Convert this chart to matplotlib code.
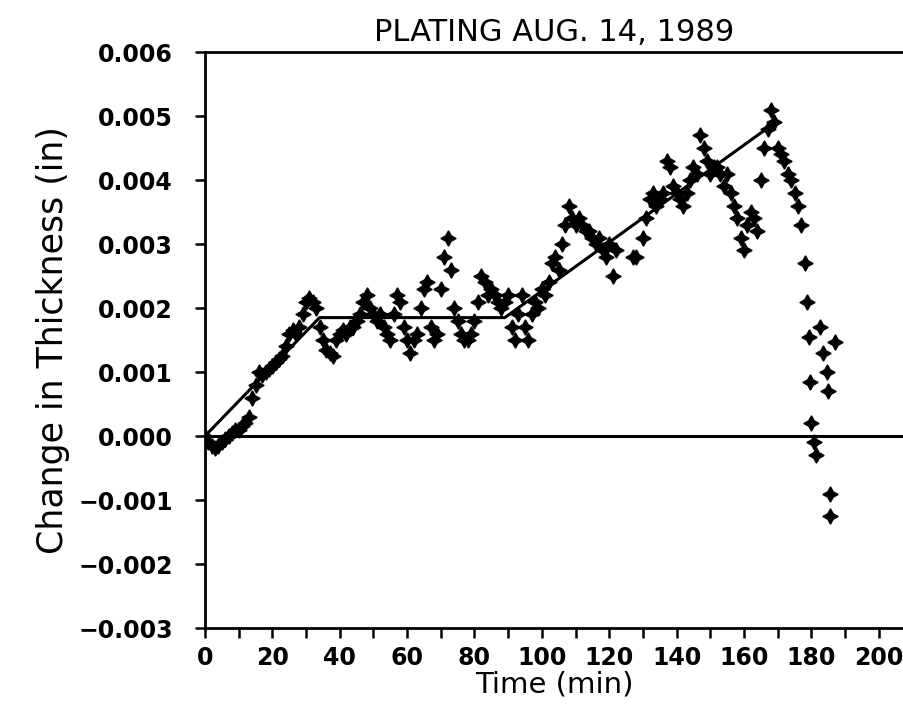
import numpy as np
import matplotlib.pyplot as plt

# measured thickness change (in) vs time (min)
time_min = [0, 1, 2, 3, 4, 5, 6, 7, 8, 9, 10, 11, 12, 13, 14, 15, 16, 17, 18, 19,
            20, 21, 22, 23, 24, 25, 26, 27, 28, 29, 30, 31, 32, 33, 34, 35, 36, 37, 38, 39,
            40, 41, 42, 43, 44, 45, 46, 47, 48, 49, 50, 51, 52, 53, 54, 55, 56, 57, 58, 59,
            60, 61, 62, 63, 64, 65, 66, 67, 68, 69, 70, 71, 72, 73, 74, 75, 76, 77, 78, 79,
            80, 81, 82, 83, 84, 85, 86, 87, 88, 89, 90, 91, 92, 93, 94, 95, 96, 97, 98, 99,
            100, 101, 102, 103, 104, 105, 106, 107, 108, 109, 110, 111, 112, 113, 114, 115,
            116, 117, 118, 119, 120, 121, 122, 127, 128, 130, 131, 132, 133, 134, 135, 136,
            137, 138, 139, 140, 141, 142, 143, 144, 145, 146, 147, 148, 149, 150, 151, 152,
            153, 154, 155, 156, 157, 158, 159, 160, 161, 162, 163, 164, 165, 166, 167, 168,
            169, 170, 171, 172, 173, 174, 175, 176, 177, 178, 178.6, 179.3, 179.6, 180,
            180.8, 181.5, 182.5, 183.5, 184.5, 185, 185.5, 185.5, 187]
thickness = [0.0, -0.0001, -0.00015, -0.00018, -0.00015, -0.0001, -0.00005, 0.0, 0.00005, 0.0001,
             0.0001, 0.00015, 0.0002, 0.0003, 0.0006, 0.0008, 0.001, 0.00095, 0.001, 0.00105,
             0.0011, 0.00115, 0.0012, 0.00125, 0.0014, 0.0016, 0.00165, 0.0016, 0.0017, 0.0019,
             0.0021, 0.00215, 0.0021, 0.002, 0.0017, 0.0015, 0.00135, 0.0013, 0.00125, 0.0015,
             0.0016, 0.00165, 0.0016, 0.0017, 0.0017, 0.0018, 0.0019, 0.0021, 0.0022, 0.002,
             0.0019, 0.0018, 0.0019, 0.0017, 0.0016, 0.0015, 0.0019, 0.0022, 0.0021, 0.0017,
             0.0015, 0.0013, 0.0015, 0.0016, 0.002, 0.0023, 0.0024, 0.0017, 0.0015, 0.0016,
             0.0023, 0.0028, 0.0031, 0.0026, 0.002, 0.0018, 0.0016, 0.0015, 0.0015, 0.0016,
             0.0018, 0.0021, 0.0025, 0.0024, 0.0022, 0.0023, 0.0022, 0.0021, 0.002, 0.0021,
             0.0022, 0.0017, 0.0015, 0.0019, 0.0022, 0.0017, 0.0015, 0.0019, 0.0021, 0.002,
             0.0023, 0.0022, 0.0024, 0.0027, 0.0028, 0.0026, 0.003, 0.0033, 0.0036, 0.0034,
             0.0033, 0.0034, 0.0033, 0.0032, 0.0032, 0.0031, 0.003, 0.0031, 0.0029, 0.0028,
             0.003, 0.0025, 0.0029, 0.0028, 0.0028, 0.0031, 0.0034, 0.0037, 0.0038, 0.0036,
             0.0037, 0.0038, 0.0043, 0.0042, 0.0039, 0.0038, 0.0037, 0.0036, 0.0038, 0.004,
             0.0042, 0.0041, 0.0047, 0.0045, 0.0043, 0.0041, 0.0042, 0.0042, 0.0041, 0.0039,
             0.0041, 0.0038, 0.0036, 0.0034, 0.0031, 0.0029, 0.0033, 0.0035, 0.0034, 0.0032,
             0.004, 0.0045, 0.0048, 0.0051, 0.0049, 0.0045, 0.0044, 0.0043, 0.0041, 0.004,
             0.0038, 0.0036, 0.0033, 0.0027, 0.0021, 0.00155, 0.00085, 0.0002, -0.0001, -0.0003,
             0.0017, 0.0013, 0.001, 0.0007, -0.0009, -0.00125, 0.00147]

# piecewise fit line
fit_t = [0, 34, 89, 168]
fit_v = [0.0, 0.00185, 0.00185, 0.00485]

x_ticks = [0, 20, 40, 60, 80, 100, 120, 140, 160, 180, 200]
y_ticks = [-0.003, -0.002, -0.001, 0.0, 0.001, 0.002, 0.003, 0.004, 0.005, 0.006]

fig = plt.figure(figsize=(9.04, 7.08), dpi=100)
ax = fig.add_axes([205 / 904, 80 / 708, 699 / 904, 576 / 708])

ax.axhline(0, color='black', lw=2.2)
ax.plot(fit_t, fit_v, color='black', lw=2.2)
ax.plot(time_min, thickness, linestyle='none', marker=(4, 1, 0), markersize=11,
        color='black')

ax.set_xlim(0, 207.5)
ax.set_ylim(-0.003, 0.006)
ax.set_xticks(x_ticks)
ax.set_xticks(np.arange(0, 207, 10), minor=True)
ax.set_yticks(y_ticks)
ax.set_yticklabels([('%.3f' % v).replace('-', '\u2212') for v in y_ticks])
ax.spines['right'].set_visible(False)
for s in ['left', 'top', 'bottom']:
    ax.spines[s].set_linewidth(2)
ax.tick_params(axis='both', direction='out', width=1.8, length=7, labelsize=17)
ax.tick_params(axis='x', which='minor', direction='out', width=1.8, length=7)
ax.tick_params(axis='y', pad=16)
ax.tick_params(axis='x', pad=6)
for lab in ax.get_xticklabels() + ax.get_yticklabels():
    lab.set_fontweight('bold')

ax.set_title('PLATING AUG. 14, 1989', fontsize=22, pad=8)
ax.set_xlabel('Time (min)', fontsize=21, labelpad=0)
ax.set_ylabel('Change in Thickness (in)', fontsize=25, labelpad=6)

plt.savefig('out.png', dpi=100)
